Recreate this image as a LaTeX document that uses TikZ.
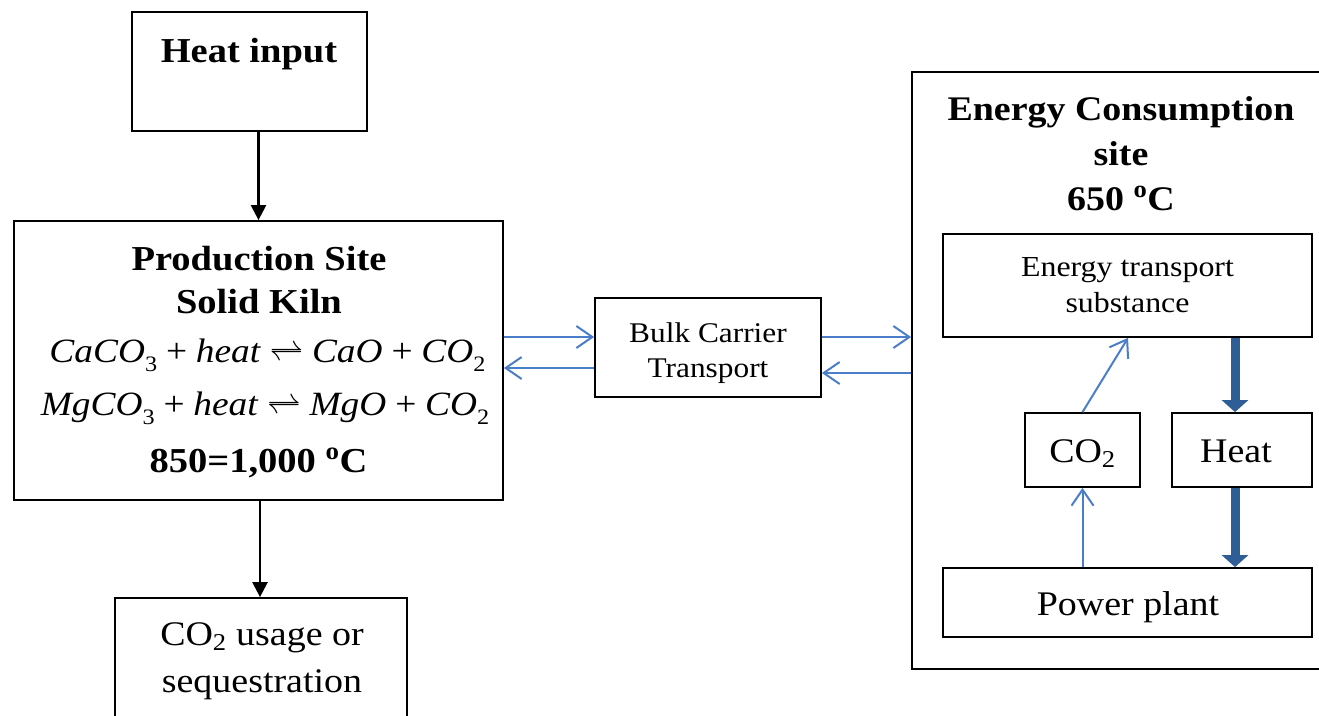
\documentclass[tikz,border=0pt]{standalone}
\usepackage{fix-cm}
\usepackage{fontspec}
\setmainfont[FakeStretch=1.1]{Liberation Serif}
\usetikzlibrary{arrows.meta,calc}
\definecolor{linkblue}{HTML}{4A7EC8}
\definecolor{heatblue}{HTML}{2F5D95}
\newcommand{\eqsp}{\hspace{0.26em}}
\newcommand{\lowsub}[1]{\raisebox{-0.28em}{\fontsize{22}{22}\selectfont\upshape #1}}
\begin{document}
\begin{tikzpicture}[x=1pt,y=-1pt,
  box/.style={draw=black,line width=1.8pt,inner sep=0pt,rectangle},
  lbl/.style={anchor=base,inner sep=0pt,align=center},
  bigbold/.style={font=\fontsize{35}{43}\selectfont\bfseries},
  plain/.style={font=\fontsize{34.5}{47}\selectfont},
  smallplain/.style={font=\fontsize{28.5}{35}\selectfont},
  flowarrow/.style={line width=2.4pt,-{Triangle[length=15pt,width=15pt]}},
  linkarrow/.style={draw=linkblue,line width=2pt,-{Straight Barb[length=16pt,width=22pt]}},
  heatarrow/.style={draw=heatblue,line width=9pt,-{Triangle[length=12pt,width=26pt]}}]
\clip (0,0) rectangle (1319,715);
\fill[white] (0,0) rectangle (1319,715);

% left column: heat input, kiln, CO2 outlet
\node[box,minimum width=235pt,minimum height=119pt] (hin) at (249.5,71.5) {};
\node[box,minimum width=489pt,minimum height=279pt] (prod) at (258.5,360.5) {};
\node[box,minimum width=292pt,minimum height=132pt] (use) at (261,664) {};

% multi-line labels are anchored on the baseline of their last line
\node[lbl,bigbold] (hintxt) at (249,62) {Heat input};
\node[lbl,bigbold] (prodtxt) at (259,313) {Production Site\\Solid Kiln};
\node[lbl,font=\fontsize{34}{40}\selectfont] (eqca) at (267.5,362)
  {\textit{CaCO}\lowsub{3}\eqsp+\eqsp\textit{heat}\eqsp$\rightleftharpoons$\eqsp\textit{CaO}\eqsp+\eqsp\textit{CO}\lowsub{2}};
\node[lbl,font=\fontsize{34}{40}\selectfont] (eqmg) at (265,415)
  {\textit{MgCO}\lowsub{3}\eqsp+\eqsp\textit{heat}\eqsp$\rightleftharpoons$\eqsp\textit{MgO}\eqsp+\eqsp\textit{CO}\lowsub{2}};
\node[lbl,bigbold] (prodtemp) at (258.5,472) {850=1,000 \textsuperscript{o}C};
\node[lbl,plain] (usetxt) at (262,692) {CO\textsubscript{2} usage or\\sequestration};

\draw[flowarrow] (hin.south -| 258.5,0) -- (prod.north -| 258.5,0);
\draw[flowarrow] (prod.south -| 260,0) -- (use.north -| 260,0);

% transport link
\node[box,minimum width=226pt,minimum height=99pt] (bulk) at (708,347.5) {};
\node[lbl,smallplain] (bulktxt) at (708,377) {Bulk Carrier\\Transport};

% consumption site
\node[box,minimum width=418pt,minimum height=597pt] (ecs) at (1121,370.5) {};
\node[lbl,font=\fontsize{34.5}{45}\selectfont\bfseries] (ecstxt) at (1121,210)
  {Energy Consumption\\site\\650 \textsuperscript{o}C};

\node[box,minimum width=369pt,minimum height=103pt] (ets) at (1127.5,285.5) {};
\node[lbl,font=\fontsize{29}{36}\selectfont] (etstxt) at (1127.5,312) {Energy transport\\substance};
\node[box,minimum width=115pt,minimum height=74pt] (co2) at (1082.5,450) {};
\node[lbl,plain] (co2txt) at (1082.5,462) {CO\textsubscript{2}};
\node[box,minimum width=140pt,minimum height=74pt] (heat) at (1242,450) {};
\node[lbl,plain] (heattxt) at (1236,462) {Heat};
\node[box,minimum width=369pt,minimum height=69pt] (pp) at (1127.5,602.5) {};
\node[lbl,plain] (pptxt) at (1128,615) {Power plant};

% shipping arrows between the sites
\coordinate (outrow) at (0,337);
\coordinate (backleft) at (0,368);
\coordinate (backright) at (0,373);
\draw[linkarrow] (prod.east |- outrow) -- (bulk.west |- outrow);
\draw[linkarrow] (bulk.west |- backleft) -- (prod.east |- backleft);
\draw[linkarrow] (bulk.east |- outrow) -- (ecs.west |- outrow);
\draw[linkarrow] (ecs.west |- backright) -- (bulk.east |- backright);

% CO2 loop inside the consumption site
\draw[linkarrow] (pp.north -| co2.south) -- (co2.south);
\draw[linkarrow] (co2.north) -- (ets.south -| 1128,0);

% heat delivery
\draw[heatarrow] (ets.south -| 1235,0) -- (heat.north -| 1235,0);
\draw[heatarrow] (heat.south -| 1235,0) -- (pp.north -| 1235,0);
\end{tikzpicture}
\end{document}
